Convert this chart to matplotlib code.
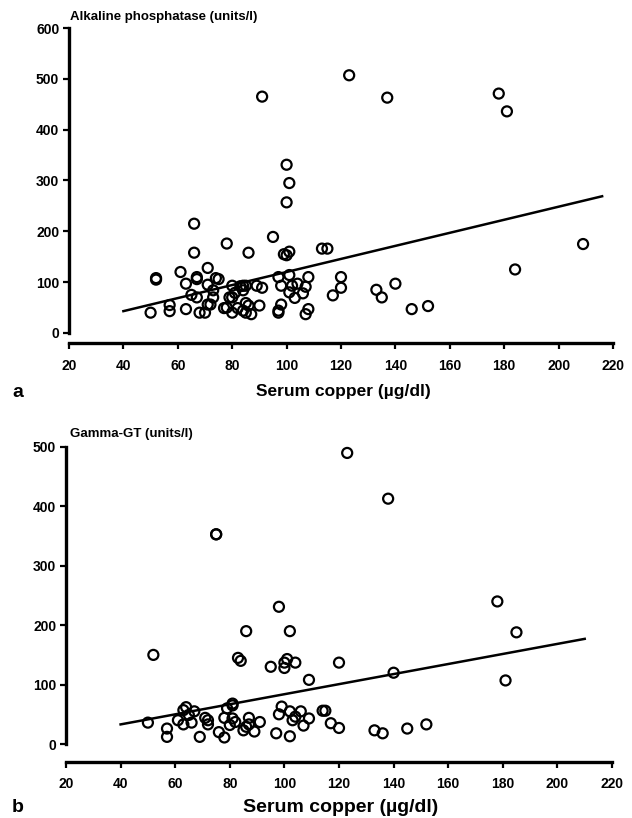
"""
Serum copper against liver enzymes, two stacked scatter panels.
"""

import numpy as np
import matplotlib
matplotlib.use("Agg")
import matplotlib.pyplot as plt

plt.rcParams["font.family"] = ["Liberation Sans", "DejaVu Sans"]
plt.rcParams["font.weight"] = "bold"

# panel a: alkaline phosphatase (units/l) vs serum copper (ug/dl)
alp_copper = [91, 123, 137, 178, 181, 100, 101, 100, 66, 66, 78, 86, 95, 99, 101, 100,
              113, 115, 209, 184, 52, 52, 61, 63, 67, 67, 71, 74, 75, 71, 65, 67, 73, 73,
              72, 71, 50, 57, 57, 63, 68, 70, 77, 78, 80, 80, 79, 80, 81, 83, 84, 85, 84,
              82, 84, 85, 86, 85, 87, 89, 91, 90, 97, 97, 98, 97, 98, 101, 101, 102, 103,
              104, 106, 107, 108, 107, 108, 117, 120, 120, 133, 135, 140, 146, 152]
alp_values = [465, 507, 463, 471, 436, 331, 295, 257, 215, 158, 176, 158, 189, 155, 160, 153,
              166, 166, 175, 125, 108, 105, 120, 97, 110, 106, 128, 108, 106, 95, 75, 70, 84, 70,
              56, 56, 40, 55, 43, 47, 40, 40, 49, 50, 40, 93, 70, 70, 79, 92, 93, 93, 84,
              49, 44, 59, 54, 40, 37, 93, 89, 54, 40, 44, 56, 110, 93, 114, 80, 93, 69,
              97, 78, 91, 110, 37, 47, 74, 110, 89, 85, 70, 97, 47, 53]
alp_fit_x = [40, 216]
alp_fit_y = [43, 269]

# panel b: gamma-GT (units/l) vs serum copper (ug/dl)
ggt_copper = [123, 138, 75, 75, 178, 185, 181, 98, 86, 102, 52, 83, 84, 95, 100, 101, 100,
              104, 120, 109, 140, 50, 57, 57, 64, 63, 67, 65, 61, 63, 66, 69, 71, 72, 72,
              76, 78, 81, 81, 79, 78, 81, 80, 82, 85, 86, 87, 87, 89, 91, 97, 98, 99, 102,
              102, 103, 104, 106, 107, 109, 114, 115, 117, 120, 133, 136, 145, 152]
ggt_values = [490, 413, 353, 353, 240, 188, 107, 231, 190, 190, 150, 145, 140, 130, 137, 143, 128,
              137, 137, 108, 120, 36, 26, 12, 62, 57, 55, 49, 40, 33, 36, 12, 44, 40, 33,
              20, 11, 68, 65, 60, 44, 43, 32, 37, 23, 29, 44, 33, 21, 37, 18, 50, 63, 55,
              13, 40, 46, 55, 31, 43, 56, 56, 35, 27, 23, 18, 26, 33]
ggt_fit_x = [40, 210]
ggt_fit_y = [33, 177]

x_ticks = np.arange(20, 221, 20)

W, H = 632, 818
fig = plt.figure(figsize=(W / 100, H / 100), dpi=100)


def px_axes(left, right, bottom, top):
    # axes box given in picture pixels
    return fig.add_axes([left / W, 1 - bottom / H, (right - left) / W, (bottom - top) / H])


def style(ax, ymax, ystep, offset):
    ax.set_xlim(20, 220)
    ax.set_ylim(0, ymax)
    for side in ("top", "right"):
        ax.spines[side].set_visible(False)
    ax.spines["left"].set_linewidth(2.4)
    ax.spines["bottom"].set_linewidth(2.4)
    ax.spines["left"].set_bounds(0, ymax)
    ax.spines["bottom"].set_bounds(20, 220)
    ax.spines["bottom"].set_position(("outward", offset))
    ax.set_xticks(x_ticks)
    ax.set_yticks(np.arange(0, ymax + 1, ystep))
    ax.tick_params(axis="both", direction="out", length=4, width=1.6,
                   labelsize=10, pad=3, color="black")
    ax.tick_params(axis="x", pad=7)
    for lab in ax.get_xticklabels() + ax.get_yticklabels():
        lab.set_fontweight("bold")


def panel(ax, xs, ys, fx, fy):
    ax.scatter(xs, ys, s=52, facecolors="none", edgecolors="black",
               linewidths=1.6, clip_on=False, zorder=3)
    ax.plot(fx, fy, color="black", lw=1.8, zorder=2)


ax1 = px_axes(69, 613, 333, 28)
panel(ax1, alp_copper, alp_values, alp_fit_x, alp_fit_y)
style(ax1, 600, 100, 7.5)
fig.text(70 / W, 1 - 20 / H, "Alkaline phosphatase (units/l)", fontsize=9.5,
         fontweight="bold", ha="left", va="baseline")
fig.text(343 / W, 1 - 396 / H, "Serum copper (µg/dl)", fontsize=12.5,
         fontweight="bold", ha="center", va="baseline")
fig.text(12 / W, 1 - 397 / H, "a", fontsize=14, fontweight="bold", ha="left", va="baseline")

ax2 = px_axes(66, 612, 744, 447)
panel(ax2, ggt_copper, ggt_values, ggt_fit_x, ggt_fit_y)
style(ax2, 500, 100, 13)
fig.text(70 / W, 1 - 437 / H, "Gamma-GT (units/l)", fontsize=9.5,
         fontweight="bold", ha="left", va="baseline")
fig.text(341 / W, 1 - 812 / H, "Serum copper (µg/dl)", fontsize=14,
         fontweight="bold", ha="center", va="baseline")
fig.text(12 / W, 1 - 812 / H, "b", fontsize=14, fontweight="bold", ha="left", va="baseline")

fig.savefig("out.png", dpi=100)
